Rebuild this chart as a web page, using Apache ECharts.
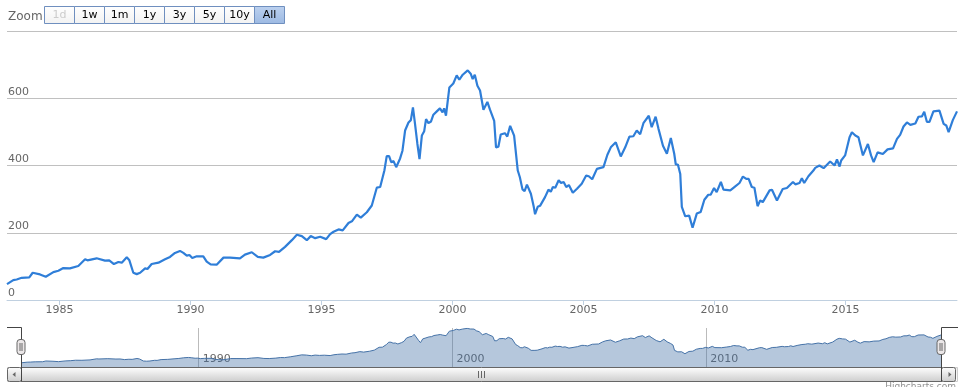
<!DOCTYPE html>
<html><head><meta charset="utf-8">
<script src="https://cdn.jsdelivr.net/npm/echarts@6/dist/echarts.min.js"></script>
<style>html,body{margin:0;padding:0;background:#fff}#c{width:966px;height:387px}</style>
</head><body><div id="c"></div>
<script>
// time positions as decimal years
const years = [
 1983.00,1983.24,1983.37,1983.56,1983.85,1983.98,1984.26,1984.48,1984.77,1984.96,
 1985.15,1985.40,1985.72,1985.98,1986.07,1986.42,1986.74,1986.90,1987.08,1987.25,
 1987.38,1987.57,1987.67,1987.82,1987.95,1988.08,1988.27,1988.36,1988.52,1988.78,
 1989.03,1989.22,1989.41,1989.60,1989.73,1989.86,1989.96,1990.07,1990.24,1990.49,
 1990.62,1990.77,1991.00,1991.26,1991.51,1991.89,1992.08,1992.34,1992.57,1992.78,
 1993.04,1993.23,1993.38,1993.61,1993.87,1994.06,1994.25,1994.44,1994.59,1994.76,
 1994.95,1995.18,1995.33,1995.46,1995.65,1995.81,1996.03,1996.16,1996.35,1996.50,
 1996.73,1996.92,1997.11,1997.24,1997.40,1997.49,1997.58,1997.66,1997.75,1997.85,
 1998.00,1998.09,1998.19,1998.32,1998.41,1998.49,1998.57,1998.66,1998.74,1998.83,
 1998.92,1998.99,1999.08,1999.18,1999.27,1999.40,1999.52,1999.62,1999.68,1999.75,
 1999.88,2000.03,2000.16,2000.26,2000.39,2000.58,2000.70,2000.77,2000.85,2000.95,
 2001.05,2001.18,2001.33,2001.43,2001.59,2001.66,2001.75,2001.84,2002.00,2002.09,
 2002.20,2002.26,2002.35,2002.49,2002.57,2002.67,2002.75,2002.84,2002.99,2003.10,
 2003.15,2003.25,2003.34,2003.53,2003.66,2003.75,2003.83,2003.92,2004.05,2004.14,
 2004.24,2004.34,2004.44,2004.59,2004.75,2004.93,2005.10,2005.20,2005.33,2005.51,
 2005.76,2005.91,2006.04,2006.23,2006.42,2006.59,2006.75,2006.90,2007.03,2007.16,
 2007.29,2007.49,2007.60,2007.75,2007.86,2007.93,2008.03,2008.18,2008.33,2008.46,
 2008.52,2008.60,2008.69,2008.75,2008.88,2009.03,2009.16,2009.32,2009.47,2009.61,
 2009.76,2009.85,2009.98,2010.08,2010.24,2010.34,2010.60,2010.79,2010.95,2011.08,
 2011.21,2011.30,2011.42,2011.52,2011.64,2011.74,2011.84,2012.10,2012.19,2012.38,
 2012.44,2012.60,2012.76,2012.99,2013.08,2013.24,2013.33,2013.42,2013.58,2013.77,
 2013.84,2013.90,2014.00,2014.16,2014.41,2014.58,2014.67,2014.77,2014.83,2014.98,
 2015.15,2015.24,2015.37,2015.49,2015.66,2015.85,2015.97,2016.07,2016.22,2016.42,
 2016.60,2016.81,2016.96,2017.08,2017.21,2017.34,2017.47,2017.66,2017.78,2017.91,
 2018.00,2018.10,2018.20,2018.35,2018.58,2018.74,2018.84,2018.93,2018.99,2019.09,
 2019.25
];
const values = [
 47,59,61,66,67,81,76,69,83,87,
 95,94,101,121,118,124,117,118,107,113,
 111,127,118,81,77,81,94,92,107,111,
 121,128,140,146,140,132,134,125,130,130,
 114,106,105,126,126,124,135,142,128,126,
 134,145,143,158,178,194,190,178,190,184,
 188,181,196,203,210,207,229,234,254,245,
 261,281,334,336,385,428,428,410,413,395,
 421,444,504,528,535,573,523,464,419,489,
 502,538,526,531,551,561,570,558,570,548,
 632,644,668,655,670,683,672,657,670,637,
 623,566,589,566,533,454,456,492,496,486,
 518,516,489,385,365,329,324,343,316,277,
 255,277,280,306,328,322,336,334,356,348,
 351,336,342,319,331,346,370,368,359,390,
 395,432,454,469,427,454,486,487,504,493,
 527,548,514,545,509,506,459,435,482,435,
 403,403,375,277,249,251,215,257,262,298,
 313,313,333,321,351,328,326,338,348,367,
 360,360,336,334,279,296,291,326,328,296,
 294,330,333,351,344,348,362,348,368,385,
 393,390,400,392,412,400,418,397,415,430,
 484,499,489,484,430,464,430,410,439,434,
 448,451,479,491,516,528,521,525,545,546,
 560,530,530,561,563,524,519,499,499,535,
 561
];
const xTickYears = [1985,1990,1995,2000,2005,2010,2015];
const navTickYears = [1990,2000,2010];
const yTicks = [0,200,400,600,800];
const zoomButtons = ['1d','1w','1m','1y','3y','5y','10y','All'];

const data = years.map((y,i)=>[y, values[i]]);
const FONT = 'DejaVu Sans';
const chart = echarts.init(document.getElementById('c'));

const grad = (a,b)=>new echarts.graphic.LinearGradient(0,0,0,1,[{offset:0,color:a},{offset:1,color:b}]);
const graphics = [];
graphics.push({type:'text', x:8, y:17, z:100, style:{text:'Zoom', fill:'#666', font:'12px '+FONT, verticalAlign:'middle'}});
zoomButtons.forEach((b,i)=>{
  const sel = b==='All', dis = b==='1d';
  graphics.push({type:'rect', z:100, shape:{x:44.5+30*i, y:6.5, width:30, height:17},
    style:{fill: sel ? grad('#bcd1ef','#9cb9e2') : grad('#ffffff','#f2f2f2'), stroke:'#6f8fbf', lineWidth:1}});
  graphics.push({type:'text', z:101, x:59.5+30*i, y:15.5,
    style:{text:b, fill: dis ? '#ccc' : '#000', font:'11px '+FONT, align:'center', verticalAlign:'middle'}});
});
// scrollbar
graphics.push({type:'rect', z:100, shape:{x:7.5,y:367.5,width:950,height:14}, style:{fill:grad('#eee','#fff'), stroke:'#ccc'}});
graphics.push({type:'rect', z:101, shape:{x:21.5,y:367.5,width:920,height:14}, style:{fill:grad('#fff','#ccc'), stroke:'#666'}});
graphics.push({type:'rect', z:101, shape:{x:7.5,y:367.5,width:14,height:14,r:2}, style:{fill:grad('#fff','#ccc'), stroke:'#666'}});
graphics.push({type:'rect', z:101, shape:{x:941.5,y:367.5,width:14,height:14,r:2}, style:{fill:grad('#fff','#ccc'), stroke:'#666'}});
graphics.push({type:'polygon', z:102, shape:{points:[[12.5,374.5],[15.5,372],[15.5,377]]}, style:{fill:'#666'}});
graphics.push({type:'polygon', z:102, shape:{points:[[951.5,374.5],[948.5,372],[948.5,377]]}, style:{fill:'#666'}});
[478.5,481.5,484.5].forEach(x=>graphics.push({type:'line', z:102, shape:{x1:x,y1:371,x2:x,y2:378}, style:{stroke:'#666', lineWidth:1}}));
// navigator outline
graphics.push({type:'polyline', z:103, shape:{points:[[7,327.5],[21.5,327.5],[21.5,381.5]]}, style:{stroke:'#444', lineWidth:1, fill:null}});
graphics.push({type:'polyline', z:103, shape:{points:[[941.5,381.5],[941.5,327.5],[958,327.5]]}, style:{stroke:'#444', lineWidth:1, fill:null}});
// handles
[21.5,941.5].forEach(cx=>{
  graphics.push({type:'rect', z:104, shape:{x:cx-4.5,y:339.5,width:8,height:15,r:3}, style:{fill:'#ebe7e8', stroke:'#666'}});
  graphics.push({type:'line', z:105, shape:{x1:cx-1.5,y1:343,x2:cx-1.5,y2:351}, style:{stroke:'#666'}});
  graphics.push({type:'line', z:105, shape:{x1:cx+0.5,y1:343,x2:cx+0.5,y2:351}, style:{stroke:'#666'}});
});
graphics.push({type:'text', z:100, x:956, y:382, style:{text:'Highcharts.com', fill:'#909090', font:'9px '+FONT, align:'right', verticalAlign:'top'}});

chart.setOption({
  animation:false,
  backgroundColor:'#fff',
  grid:[{left:7,right:9,top:31,bottom:87},{left:21,right:25,top:328,height:39}],
  xAxis:[
    {type:'value', gridIndex:0, min:1983, max:2019.25,
     axisLine:{show:true, lineStyle:{color:'#C0D0E0'}},
     axisTick:{show:true, customValues:xTickYears, length:5, lineStyle:{color:'#C0D0E0'}},
     axisLabel:{customValues:xTickYears, color:'#666', fontFamily:FONT, fontSize:11, margin:5, formatter:v=>String(v)},
     splitLine:{show:false}},
    {type:'value', gridIndex:1, min:1983, max:2019.25,
     axisLine:{show:false},
     axisTick:{show:false, customValues:navTickYears},
     axisLabel:{customValues:navTickYears, inside:true, align:'left', verticalAlign:'bottom', padding:[0,0,0,4], margin:2,
       color:'#666', fontFamily:FONT, fontSize:11, formatter:v=>String(v)},
     splitLine:{show:true, customValues:navTickYears, lineStyle:{color:'#bbb', width:1}}}
  ],
  yAxis:[
    {type:'value', gridIndex:0, min:0, max:800, interval:200,
     axisLine:{show:false}, axisTick:{show:false},
     axisLabel:{inside:true, align:'left', verticalAlign:'bottom', margin:1, padding:[0,0,1,0],
       color:'#666', fontFamily:FONT, fontSize:11, showMaxLabel:false},
     splitLine:{lineStyle:{color:'#C0C0C0', width:1}}},
    {type:'value', gridIndex:1, min:-30, max:690, show:false, splitLine:{show:false}}
  ],
  series:[
    {type:'line', xAxisIndex:0, yAxisIndex:0, data:data, showSymbol:false, symbol:'none',
     lineStyle:{color:'#2f7ed8', width:2.2}, z:3},
    {type:'line', xAxisIndex:1, yAxisIndex:1, data:data, showSymbol:false, symbol:'none',
     lineStyle:{color:'#4572A7', width:1}, areaStyle:{color:'rgba(69,114,167,0.4)', opacity:1, origin:'start'}, z:2}
  ],
  graphic:graphics
});
</script>
</body></html>
